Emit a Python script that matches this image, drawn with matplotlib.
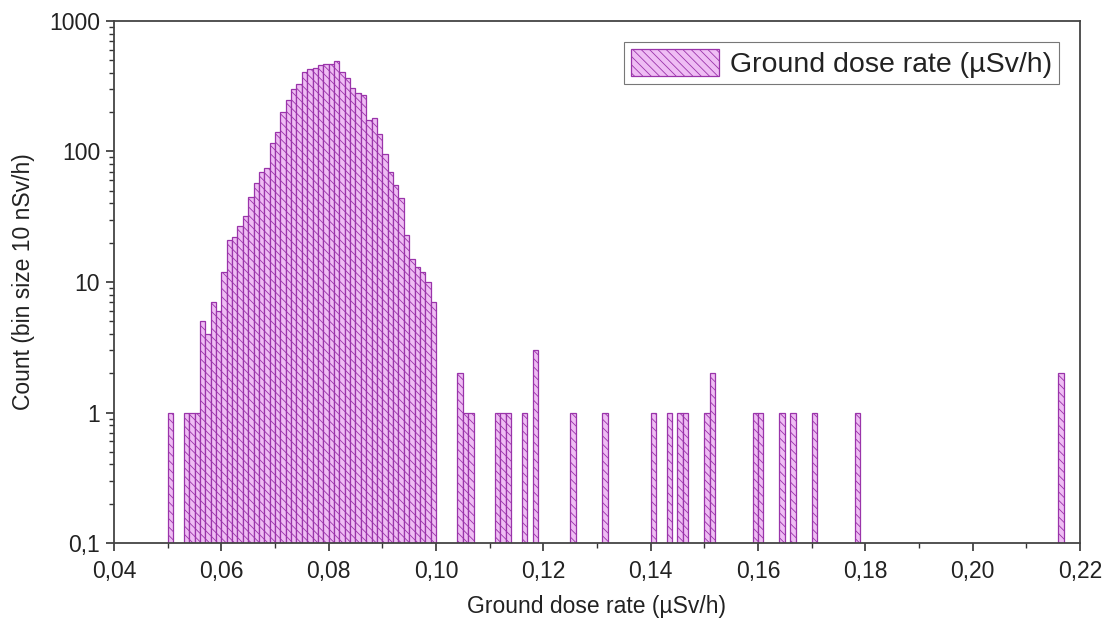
import matplotlib
matplotlib.use("Agg")
import matplotlib.pyplot as plt
from matplotlib.ticker import FuncFormatter, MultipleLocator, LogLocator, NullFormatter

# Bin start (µSv/h) and counts, bin width 0.001
bin_start = [0.050, 0.053, 0.054, 0.055, 0.056, 0.057, 0.058, 0.059,
             0.060, 0.061, 0.062, 0.063, 0.064, 0.065, 0.066, 0.067, 0.068, 0.069,
             0.070, 0.071, 0.072, 0.073, 0.074, 0.075, 0.076, 0.077, 0.078, 0.079,
             0.080, 0.081, 0.082, 0.083, 0.084, 0.085, 0.086, 0.087, 0.088, 0.089,
             0.090, 0.091, 0.092, 0.093, 0.094, 0.095, 0.096, 0.097, 0.098, 0.099,
             0.104, 0.105, 0.106, 0.111, 0.112, 0.113, 0.116, 0.118, 0.125, 0.131,
             0.140, 0.143, 0.145, 0.146, 0.150, 0.151, 0.159, 0.160, 0.164, 0.166,
             0.170, 0.178, 0.216]
counts = [1, 1, 1, 1, 5, 4, 7, 6,
          12, 21, 22, 27, 32, 45, 57, 70, 75, 116,
          142, 200, 250, 300, 330, 410, 430, 440, 460, 465,
          470, 490, 410, 365, 305, 280, 270, 175, 180, 135,
          95, 70, 55, 44, 23, 15, 13, 12, 10, 7,
          2, 1, 1, 1, 1, 1, 1, 3, 1, 1,
          1, 1, 1, 1, 1, 2, 1, 1, 1, 1,
          1, 1, 2]
bin_width = 0.001

x_ticks = [0.04, 0.06, 0.08, 0.10, 0.12, 0.14, 0.16, 0.18, 0.20, 0.22]
y_ticks = [0.1, 1, 10, 100, 1000]

series_label = "Ground dose rate (µSv/h)"
x_label = "Ground dose rate (µSv/h)"
y_label = "Count (bin size 10 nSv/h)"

plt.rcParams['font.family'] = ['Liberation Sans', 'DejaVu Sans']
plt.rcParams['hatch.linewidth'] = 0.6

fig = plt.figure(figsize=(11.09, 6.30), dpi=100)
ax = fig.add_axes([0.1028, 0.138, 0.871, 0.8287])
ax.set_yscale('log')

ax.bar(bin_start, counts, width=bin_width, align='edge',
       facecolor='#efbdf4', edgecolor='#9a34aa', linewidth=0.9,
       hatch='\\\\\\\\', label=series_label)

ax.set_xlim(0.04, 0.22)
ax.set_ylim(0.1, 1000)

def comma_fmt(v, pos):
    return f"{v:.2f}".replace('.', ',')

def ylog_fmt(v, pos):
    if v < 1:
        return f"{v:g}".replace('.', ',')
    return f"{int(round(v))}"

ax.set_xticks(x_ticks)
ax.xaxis.set_major_formatter(FuncFormatter(comma_fmt))
ax.xaxis.set_minor_locator(MultipleLocator(0.01))
ax.set_yticks(y_ticks)
ax.yaxis.set_major_formatter(FuncFormatter(ylog_fmt))
ax.yaxis.set_minor_locator(LogLocator(base=10, subs=range(2, 10)))
ax.yaxis.set_minor_formatter(NullFormatter())

ax.tick_params(axis='both', which='major', direction='out', length=6, width=1.2,
               labelsize=16.5, colors='#333333', labelcolor='#222222', pad=4)
ax.tick_params(axis='x', which='major', pad=6)
ax.tick_params(axis='both', which='minor', direction='out', length=3.5, width=1.0,
               colors='#333333')
for s in ax.spines.values():
    s.set_linewidth(1.3)
    s.set_color('#444444')

ax.set_xlabel(x_label, fontsize=16.5, color='#222222', labelpad=9)
ax.set_ylabel(y_label, fontsize=16.5, color='#222222', labelpad=10)

leg = ax.legend(loc='upper right', fontsize=20.5, frameon=True, fancybox=False,
                edgecolor='#555555', borderpad=0.22, handlelength=3.1,
                handleheight=1.1, handletextpad=0.4, borderaxespad=0.75)
leg.get_frame().set_linewidth(0.8)
leg.get_texts()[0].set_color('#222222')

fig.savefig('out.png', dpi=100)
